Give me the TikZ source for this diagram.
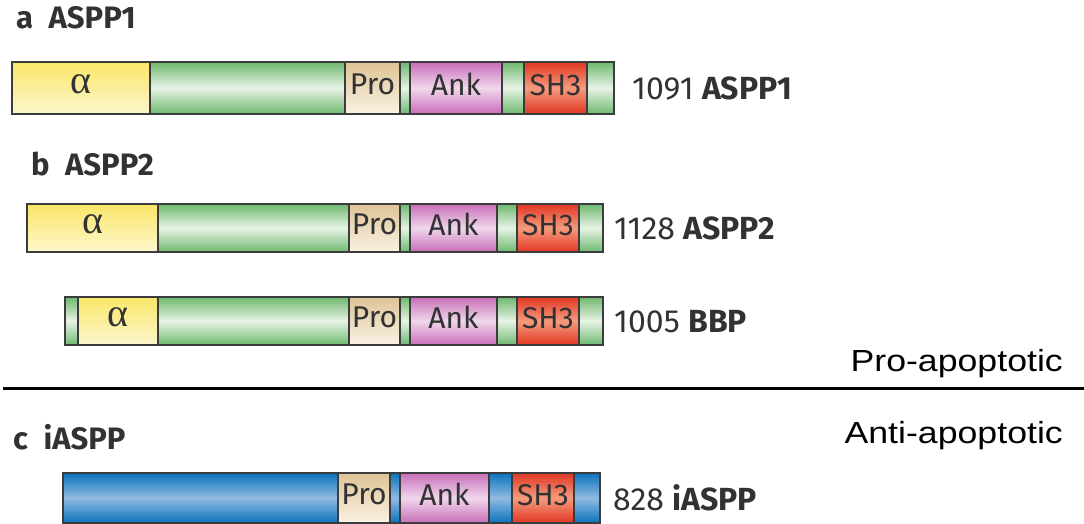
\documentclass[tikz,border=0pt]{standalone}
\usepackage{fontspec}
\setmainfont{Fira Sans}
\newfontfamily\arialfont{Liberation Sans}
\newfontfamily\greekfont{Liberation Serif}

\definecolor{edge}{RGB}{60,60,60}
\definecolor{txt}{RGB}{50,50,50}
\definecolor{grn}{RGB}{110,185,110}
\definecolor{grnl}{RGB}{232,243,230}
\definecolor{ylw}{RGB}{250,230,105}
\definecolor{ylwl}{RGB}{252,247,205}
\definecolor{pro}{RGB}{222,196,150}
\definecolor{prol}{RGB}{250,242,228}
\definecolor{ank}{RGB}{200,110,185}
\definecolor{ankl}{RGB}{240,215,236}
\definecolor{sh}{RGB}{225,55,35}
\definecolor{shl}{RGB}{245,155,125}
\definecolor{blu}{RGB}{10,115,188}
\definecolor{blul}{RGB}{145,186,225}

\newcommand*{\ya}{62}
\newcommand*{\yb}{204}
\newcommand*{\ybb}{297}
\newcommand*{\yc}{473}
\newcommand*{\alf}{{\greekfont\fontsize{40}{40}\selectfont α}}

% one domain of a bar: name, left, right, top, style, text
\newcommand*{\dom}[6]{%
  \node[#5, minimum width={(#3-#2)*1pt}] (#1) at (#2,#4) {#6};}

\begin{document}
\begin{tikzpicture}
[
	x=1pt,
	y=-1pt,
	seg/.style={draw=edge,line width=1.1pt,inner sep=0pt,outer sep=0pt,anchor=north west,
		minimum height=48pt,text depth=7pt,text=txt,font=\fontsize{30}{30}\selectfont},
	grnseg/.style={seg,top color=grn,bottom color=grn,middle color=grnl},
	alphadom/.style={seg,top color=ylw,bottom color=ylwl},
	prodom/.style={seg,top color=pro,bottom color=prol},
	ankdom/.style={seg,top color=ank,bottom color=ank,middle color=ankl},
	shdom/.style={seg,top color=sh,bottom color=sh,middle color=shl},
	bluseg/.style={seg,top color=blu,bottom color=blu,middle color=blul},
	paneltitle/.style={anchor=west,inner sep=0pt,text=txt,font=\fontsize{31}{31}\selectfont\bfseries},
	protname/.style={anchor=west,inner sep=0pt,text=txt,font=\fontsize{32}{32}\selectfont},
	side/.style={anchor=east,inner sep=0pt,font=\arialfont\fontsize{30.5}{30.5}\selectfont}
]

	\useasboundingbox (0,0) rectangle (1084,523);

	% a: ASPP1
	\node[paneltitle] (ta) at (16,18) {a\enspace ASPP1};
	\dom{a1}{12}{150}{\ya}{alphadom,minimum height=52pt}{\alf}
	\dom{a2}{150}{345}{\ya}{grnseg,minimum height=52pt}{}
	\dom{a3}{345}{400}{\ya}{prodom,minimum height=52pt}{Pro}
	\dom{a4}{400}{410}{\ya}{grnseg,minimum height=52pt}{}
	\dom{a5}{410}{502}{\ya}{ankdom,minimum height=52pt}{Ank}
	\dom{a6}{502}{524}{\ya}{grnseg,minimum height=52pt}{}
	\dom{a7}{524}{587}{\ya}{shdom,minimum height=52pt}{SH3}
	\dom{a8}{587}{614}{\ya}{grnseg,minimum height=52pt}{}
	\node[protname] (na) at (632,88) {1091 \textbf{ASPP1}};

	% b: ASPP2 and BBP
	\node[paneltitle] (tb) at (31,164) {b\enspace ASPP2};
	\dom{b1}{27}{158}{\yb}{alphadom}{\alf}
	\dom{b2}{158}{349}{\yb}{grnseg}{}
	\dom{b3}{349}{400}{\yb}{prodom}{Pro}
	\dom{b4}{400}{410}{\yb}{grnseg}{}
	\dom{b5}{410}{497}{\yb}{ankdom}{Ank}
	\dom{b6}{497}{517}{\yb}{grnseg}{}
	\dom{b7}{517}{579}{\yb}{shdom}{SH3}
	\dom{b8}{579}{603}{\yb}{grnseg}{}
	\node[protname] (nb) at (614,228) {1128 \textbf{ASPP2}};

	\dom{p1}{65}{78}{\ybb}{grnseg}{}
	\dom{p2}{78}{158}{\ybb}{alphadom}{\alf}
	\dom{p3}{158}{349}{\ybb}{grnseg}{}
	\dom{p4}{349}{400}{\ybb}{prodom}{Pro}
	\dom{p5}{400}{410}{\ybb}{grnseg}{}
	\dom{p6}{410}{497}{\ybb}{ankdom}{Ank}
	\dom{p7}{497}{517}{\ybb}{grnseg}{}
	\dom{p8}{517}{579}{\ybb}{shdom}{SH3}
	\dom{p9}{579}{603}{\ybb}{grnseg}{}
	\node[protname] (np) at (614,322) {1005 \textbf{BBP}};

	\node[side] (pro) at (1063,364) {\scalebox{1.17}[1]{Pro-apoptotic}};
	\draw[line width=3pt] (3,388) -- (1084,388);
	\node[side] (anti) at (1063,436) {\scalebox{1.17}[1]{Anti-apoptotic}};

	% c: iASPP
	\node[paneltitle] (tc) at (13,437) {c\enspace iASPP};
	\dom{c1}{63}{338}{\yc}{bluseg,minimum height=50pt}{}
	\dom{c2}{338}{390}{\yc}{prodom,minimum height=50pt}{Pro}
	\dom{c3}{390}{400}{\yc}{bluseg,minimum height=50pt}{}
	\dom{c4}{400}{489}{\yc}{ankdom,minimum height=50pt}{Ank}
	\dom{c5}{489}{512}{\yc}{bluseg,minimum height=50pt}{}
	\dom{c6}{512}{574}{\yc}{shdom,minimum height=50pt}{SH3}
	\dom{c7}{574}{600}{\yc}{bluseg,minimum height=50pt}{}
	\node[protname] (nc) at (613,498) {828 \textbf{iASPP}};

\end{tikzpicture}
\end{document}
